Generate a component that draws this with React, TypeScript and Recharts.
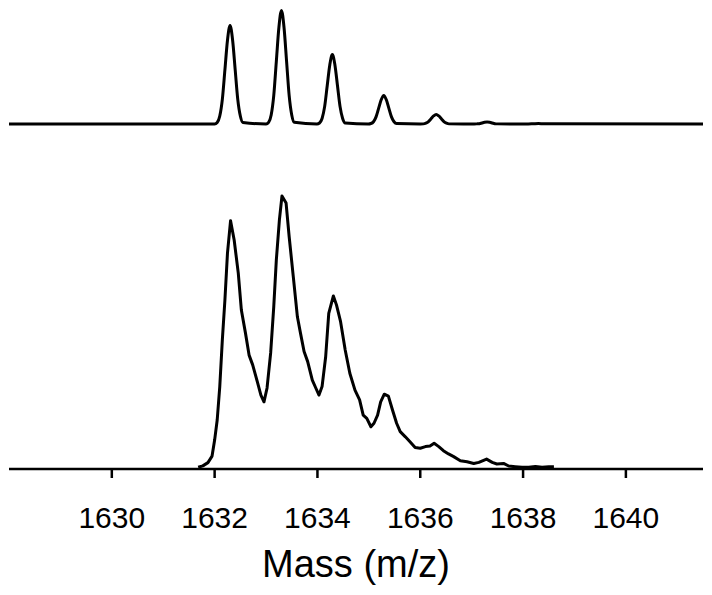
import { LineChart, Line, XAxis, YAxis } from 'recharts';

// theoretical isotope pattern (top trace), relative intensity
const theoMass = [
    1628.0, 1632.0,
    1632.05, 1632.1, 1632.15, 1632.2, 1632.25, 1632.3, 1632.35, 1632.4, 1632.45, 1632.5, 1632.55,
    1633.0,
    1633.05, 1633.1, 1633.15, 1633.2, 1633.25, 1633.3, 1633.35, 1633.4, 1633.45, 1633.5, 1633.55,
    1633.99,
    1634.04, 1634.09, 1634.14, 1634.19, 1634.24, 1634.29, 1634.34, 1634.39, 1634.44, 1634.49, 1634.54,
    1634.99,
    1635.04, 1635.09, 1635.14, 1635.19, 1635.24, 1635.29, 1635.34, 1635.39, 1635.44, 1635.49, 1635.54,
    1636.0,
    1636.06, 1636.11, 1636.16, 1636.21, 1636.26, 1636.31, 1636.36, 1636.41, 1636.46, 1636.51, 1636.56,
    1637.05,
    1637.1, 1637.15, 1637.2, 1637.25, 1637.3, 1637.35, 1637.4, 1637.45, 1637.5,
    1638.1,
    1638.2, 1638.3, 1638.4,
    1641.5,
];
const theoInt = [
    0, 0,
    1.3, 7.0, 21.7, 47.7, 73.8, 86.8, 73.8, 47.7, 21.7, 7.0, 1.3,
    0,
    1.5, 8.0, 25.0, 55.0, 85.0, 100, 85.0, 55.0, 25.0, 8.0, 1.5,
    0,
    0.9, 4.9, 15.3, 33.7, 52.0, 61.2, 52.0, 33.7, 15.3, 4.9, 0.9,
    0,
    0.4, 2.0, 6.3, 13.8, 21.3, 25.1, 21.3, 13.8, 6.3, 2.0, 0.4,
    0,
    0.1, 0.7, 2.1, 4.6, 7.1, 8.4, 7.1, 4.6, 2.1, 0.7, 0.1,
    0,
    0.1, 0.3, 0.9, 1.5, 1.8, 1.5, 0.9, 0.3, 0.1,
    0,
    0.2, 0.4, 0.2,
    0,
];

// measured spectrum (bottom trace), relative intensity
const expMass = [
    1631.68, 1631.77, 1631.87, 1631.95, 1632.0, 1632.05, 1632.1, 1632.15, 1632.2, 1632.25,
    1632.31, 1632.38, 1632.46, 1632.52, 1632.6, 1632.67, 1632.74, 1632.83, 1632.9, 1632.96,
    1633.02, 1633.09, 1633.15, 1633.2, 1633.26, 1633.31, 1633.39, 1633.45, 1633.53, 1633.61,
    1633.67, 1633.74, 1633.81, 1633.9, 1633.97, 1634.03, 1634.09, 1634.16, 1634.22, 1634.31,
    1634.37, 1634.45, 1634.54, 1634.63, 1634.73, 1634.82, 1634.89, 1634.96, 1635.04, 1635.1,
    1635.17, 1635.23, 1635.3, 1635.38, 1635.46, 1635.54, 1635.61, 1635.71, 1635.8, 1635.9,
    1636.0, 1636.1, 1636.19, 1636.27, 1636.36, 1636.45, 1636.55, 1636.65, 1636.78, 1636.91,
    1637.04, 1637.14, 1637.29, 1637.4, 1637.49, 1637.62, 1637.72, 1637.85, 1637.98, 1638.11,
    1638.24, 1638.37, 1638.5, 1638.6,
];
const expInt = [
    0.1, 0.6, 1.8, 4.2, 10.1, 17.5, 29.8, 47.0, 61.7, 79.0,
    90.9, 83.8, 71.6, 58.0, 49.5, 41.4, 37.8, 31.6, 26.7, 24.2,
    29.3, 42.2, 59.2, 76.4, 91.2, 100, 97.4, 85.0, 70.3, 55.5,
    49.5, 42.7, 39.0, 32.2, 29.2, 26.7, 29.8, 40.8, 56.8, 63.2,
    59.9, 53.7, 43.3, 34.7, 28.5, 24.9, 19.3, 18.1, 15.0, 16.3,
    19.3, 24.2, 27.0, 26.3, 21.2, 16.3, 13.2, 11.3, 9.5, 7.4,
    7.1, 7.7, 7.9, 8.9, 7.7, 6.2, 5.0, 4.0, 2.5, 2.1,
    1.5, 1.9, 3.1, 1.9, 1.3, 1.5, 0.55, 0.3, 0.1, 0.1,
    0.4, 0.1, 0.3, 0.3,
];

const massTicks = [1630, 1632, 1634, 1636, 1638, 1640];

const theoData = theoMass.map((m, i) => ({ m, v: theoInt[i] }));
const expData = expMass.map((m, i) => ({ m, v: expInt[i] }));

const FONT = '"Liberation Sans", Arial, sans-serif';

export default function App() {
    return (
        <div style={{ position: 'absolute', left: 0, top: 0, background: '#fff' }}>
            <LineChart width={712} height={595} margin={{ top: 0, right: 9, bottom: 0, left: 9 }}>
                <XAxis
                    dataKey="m"
                    type="number"
                    domain={[1628, 1641.5]}
                    allowDataOverflow
                    ticks={massTicks}
                    height={126}
                    tickSize={9}
                    tickMargin={29}
                    tick={{ fill: '#000', fontSize: 30, fontFamily: FONT }}
                    tickLine={{ stroke: '#000', strokeWidth: 2.5 }}
                    axisLine={{ stroke: '#000', strokeWidth: 2.5 }}
                    label={{
                        value: 'Mass (m/z)',
                        position: 'insideBottom',
                        offset: 18,
                        fill: '#000',
                        fontSize: 38,
                        fontFamily: FONT,
                    }}
                />
                <YAxis yAxisId="top" hide domain={[-304, 109.25]} allowDataOverflow />
                <YAxis yAxisId="bottom" hide domain={[-0.55, 172.2]} allowDataOverflow />
                <Line
                    yAxisId="top"
                    data={theoData}
                    dataKey="v"
                    type="monotone"
                    stroke="#000"
                    strokeWidth={3}
                    dot={false}
                    isAnimationActive={false}
                />
                <Line
                    yAxisId="bottom"
                    data={expData}
                    dataKey="v"
                    type="linear"
                    stroke="#000"
                    strokeWidth={3}
                    strokeLinejoin="round"
                    dot={false}
                    isAnimationActive={false}
                />
            </LineChart>
        </div>
    );
}
